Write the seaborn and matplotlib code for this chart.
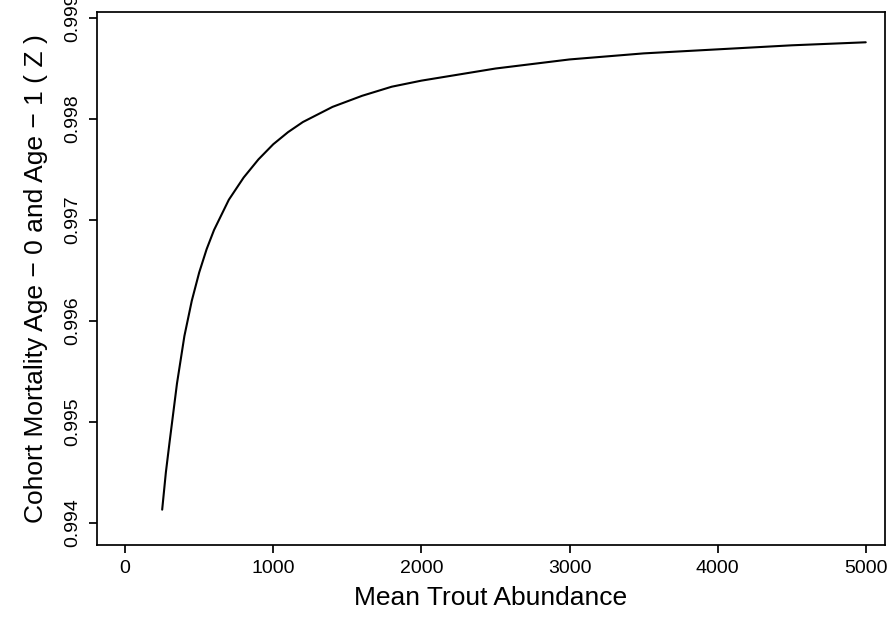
import matplotlib
matplotlib.use("Agg")
import matplotlib.pyplot as plt
import seaborn as sns

abundance = [250, 275, 300, 350, 400, 450, 500, 550, 600, 700, 800, 900, 1000, 1100, 1200,
             1400, 1600, 1800, 2000, 2500, 3000, 3500, 4000, 4500, 5000]
mortality = [0.99413, 0.99450, 0.99480, 0.99538, 0.99585, 0.99620, 0.99648, 0.99671,
             0.99690, 0.99720, 0.99742, 0.99760, 0.99775, 0.99787, 0.99797, 0.99812,
             0.99823, 0.99832, 0.99838, 0.99850, 0.99859, 0.99865, 0.99869, 0.99873, 0.99876]
xticks = [0, 1000, 2000, 3000, 4000, 5000]
yticks = [0.994, 0.995, 0.996, 0.997, 0.998, 0.999]

sns.set_theme(style="ticks")
plt.rcParams['font.family'] = ['Liberation Sans', 'DejaVu Sans']
plt.rcParams['text.color'] = 'black'
plt.rcParams['axes.labelcolor'] = 'black'

fig = plt.figure(figsize=(8.93, 6.17), dpi=100)
ax = fig.add_axes([97/893, 1-545/617, (885-97)/893, (545-12)/617])
sns.lineplot(x=abundance, y=mortality, ax=ax, color='black', linewidth=1.5)
ax.set_xlim(-190, 5130)
ax.set_ylim(0.99378, 0.99906)
ax.set_xticks(xticks)
ax.set_xticklabels([str(t) for t in xticks], fontsize=14, color='black')
ax.set_yticks(yticks)
ax.set_yticklabels([f"{t:.3f}" for t in yticks], fontsize=14, rotation=90, va='center',
                   color='black')
ax.set_xlabel("Mean Trout Abundance", fontsize=19, labelpad=6)
ax.set_ylabel("Cohort Mortality Age \u2212 0 and Age \u2212 1 ( Z )", fontsize=19, labelpad=12)
for s in ax.spines.values():
    s.set_visible(True)
    s.set_color('black')
ax.tick_params(colors='black', length=6, pad=5)
fig.savefig("out.png", dpi=100)
